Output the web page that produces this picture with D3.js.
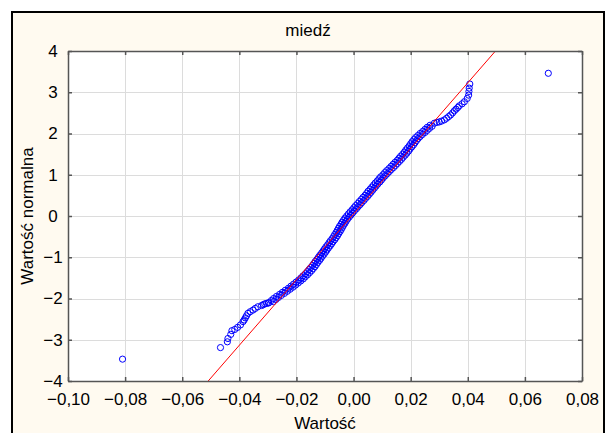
<!DOCTYPE html>
<html>
<head>
<meta charset="utf-8">
<script src="https://cdn.jsdelivr.net/npm/d3@7"></script>
<style>
  body { margin: 0; background: #fff; }
  svg { display: block; font-family: Arial, "Liberation Sans", sans-serif; }
</style>
</head>
<body>
<svg id="chart" width="606" height="433"></svg>
<script>
// chart texts
const chartTitle = "miedź";
const xTitle = "Wartość";
const yTitle = "Wartość normalna";

// tick values
const xTicks = [-0.10, -0.08, -0.06, -0.04, -0.02, 0.00, 0.02, 0.04, 0.06, 0.08];
const yTicks = [-4, -3, -2, -1, 0, 1, 2, 3, 4];

// normal scores (y)
const normalna = [
  // lower tail
  -3.47, -3.19, -3.05, -2.97, -2.87, -2.78, -2.75, -2.70, -2.64, -2.56, -2.52, -2.47,
  -2.42, -2.36, -2.32, -2.28, -2.24, -2.20, -2.17, -2.15, -2.13, -2.12, -2.11,
  // dense middle
  -2.100, -2.075, -2.050, -2.025, -2.000, -1.975, -1.950, -1.925, -1.900, -1.875,
  -1.850, -1.825, -1.800, -1.775, -1.750, -1.725, -1.700, -1.675, -1.650, -1.625,
  -1.600, -1.575, -1.550, -1.525, -1.500, -1.475, -1.450, -1.425, -1.400, -1.375,
  -1.350, -1.325, -1.300, -1.275, -1.250, -1.225, -1.200, -1.175, -1.150, -1.125,
  -1.100, -1.075, -1.050, -1.025, -1.000, -0.975, -0.950, -0.925, -0.900, -0.875,
  -0.850, -0.825, -0.800, -0.775, -0.750, -0.725, -0.700, -0.675, -0.650, -0.625,
  -0.600, -0.575, -0.550, -0.525, -0.500, -0.475, -0.450, -0.425, -0.400, -0.375,
  -0.350, -0.325, -0.300, -0.275, -0.250, -0.225, -0.200, -0.175, -0.150, -0.125,
  -0.100, -0.075, -0.050, -0.025, 0.000, 0.025, 0.050, 0.075, 0.100, 0.125,
  0.150, 0.175, 0.200, 0.225, 0.250, 0.275, 0.300, 0.325, 0.350, 0.375,
  0.400, 0.425, 0.450, 0.475, 0.500, 0.525, 0.550, 0.575, 0.600, 0.625,
  0.650, 0.675, 0.700, 0.725, 0.750, 0.775, 0.800, 0.825, 0.850, 0.875,
  0.900, 0.925, 0.950, 0.975, 1.000, 1.025, 1.050, 1.075, 1.100, 1.125,
  1.150, 1.175, 1.200, 1.225, 1.250, 1.275, 1.300, 1.325, 1.350, 1.375,
  1.400, 1.425, 1.450, 1.475, 1.500, 1.525, 1.550, 1.575, 1.600, 1.625,
  1.650, 1.675, 1.700, 1.725, 1.750, 1.775, 1.800, 1.825, 1.850, 1.875,
  1.900, 1.925, 1.950, 1.975, 2.000, 2.025, 2.050, 2.075, 2.100, 2.125,
  2.150, 2.175, 2.200,
  // upper tail
  2.25, 2.27, 2.28, 2.30, 2.33, 2.37, 2.41, 2.45, 2.50, 2.55, 2.59, 2.63,
  2.67, 2.72, 2.77, 2.85, 2.93, 3.02, 3.10, 3.20, 3.46
];

// observed values (x), same order
const wartosc = [
  // lower tail
  -0.0809, -0.0466, -0.0442, -0.0440, -0.0430, -0.0426, -0.0416, -0.0406, -0.0396, -0.0387, -0.0383, -0.0379,
  -0.0375, -0.0370, -0.0362, -0.0352, -0.0344, -0.0335, -0.0322, -0.0316, -0.0311, -0.0305, -0.0298,
  // dense middle
  -0.0297, -0.0281, -0.0288, -0.0272, -0.0280, -0.0263, -0.0270, -0.0253, -0.0259, -0.0242,
  -0.0249, -0.0232, -0.0239, -0.0222, -0.0228, -0.0212, -0.0219, -0.0203, -0.0210, -0.0194,
  -0.0201, -0.0185, -0.0192, -0.0176, -0.0184, -0.0169, -0.0177, -0.0161, -0.0169, -0.0154,
  -0.0162, -0.0147, -0.0156, -0.0141, -0.0150, -0.0135, -0.0144, -0.0130, -0.0139, -0.0125,
  -0.0134, -0.0119, -0.0128, -0.0114, -0.0123, -0.0109, -0.0118, -0.0103, -0.0112, -0.0098,
  -0.0107, -0.0093, -0.0102, -0.0088, -0.0097, -0.0082, -0.0091, -0.0077, -0.0086, -0.0072,
  -0.0081, -0.0066, -0.0075, -0.0061, -0.0070, -0.0056, -0.0066, -0.0052, -0.0061, -0.0047,
  -0.0057, -0.0043, -0.0053, -0.0039, -0.0049, -0.0035, -0.0044, -0.0030, -0.0040, -0.0026,
  -0.0035, -0.0021, -0.0030, -0.0015, -0.0024, -0.0009, -0.0018, -0.0003, -0.0012, 0.0003,
  -0.0005, 0.0010, 0.0001, 0.0016, 0.0007, 0.0023, 0.0014, 0.0029, 0.0020, 0.0036,
  0.0027, 0.0042, 0.0033, 0.0049, 0.0040, 0.0055, 0.0046, 0.0061, 0.0051, 0.0067,
  0.0058, 0.0073, 0.0064, 0.0079, 0.0070, 0.0085, 0.0076, 0.0092, 0.0083, 0.0098,
  0.0089, 0.0104, 0.0095, 0.0111, 0.0103, 0.0118, 0.0109, 0.0125, 0.0116, 0.0132,
  0.0124, 0.0140, 0.0131, 0.0147, 0.0138, 0.0154, 0.0145, 0.0161, 0.0153, 0.0168,
  0.0159, 0.0174, 0.0165, 0.0181, 0.0172, 0.0187, 0.0178, 0.0193, 0.0183, 0.0198,
  0.0189, 0.0204, 0.0195, 0.0210, 0.0200, 0.0215, 0.0205, 0.0220, 0.0211, 0.0226,
  0.0217, 0.0233, 0.0225, 0.0241, 0.0233, 0.0250, 0.0242, 0.0258, 0.0250, 0.0266,
  0.0258, 0.0275, 0.0268,
  // upper tail
  0.0283, 0.0292, 0.0300, 0.0308, 0.0318, 0.0326, 0.0333, 0.0340, 0.0347, 0.0353, 0.0359, 0.0365,
  0.0370, 0.0380, 0.0388, 0.0398, 0.0403, 0.0404, 0.0405, 0.0407, 0.0682
];

// fitted normal line, two end points
const lineX = [-0.0509, 0.0497];
const lineY = [-4, 4];

const svg = d3.select("#chart");
const plot = { left: 68, right: 582, top: 51, bottom: 381 };

// outer frame
svg.append("rect")
  .attr("x", 12).attr("y", 12)
  .attr("width", 592).attr("height", 440)
  .attr("fill", "#fffaf0")
  .attr("stroke", "#000")
  .attr("stroke-width", 2);

const x = d3.scaleLinear().domain([-0.10, 0.08]).range([plot.left, plot.right]);
const y = d3.scaleLinear().domain([-4, 4]).range([plot.bottom, plot.top]);

// plot background
svg.append("rect")
  .attr("x", plot.left).attr("y", plot.top)
  .attr("width", plot.right - plot.left).attr("height", plot.bottom - plot.top)
  .attr("fill", "#fff");

// grid
const grid = svg.append("g").attr("stroke", "#dcdcdc").attr("stroke-width", 1);
grid.selectAll(".gx").data(xTicks.slice(1, -1)).join("line")
  .attr("x1", d => Math.round(x(d)) + 0.5).attr("x2", d => Math.round(x(d)) + 0.5)
  .attr("y1", plot.top).attr("y2", plot.bottom);
grid.selectAll(".gy").data(yTicks.slice(1, -1)).join("line")
  .attr("y1", d => Math.round(y(d)) + 0.5).attr("y2", d => Math.round(y(d)) + 0.5)
  .attr("x1", plot.left).attr("x2", plot.right);

// clip for marks
svg.append("clipPath").attr("id", "clip")
  .append("rect")
  .attr("x", plot.left).attr("y", plot.top)
  .attr("width", plot.right - plot.left).attr("height", plot.bottom - plot.top);

const marks = svg.append("g").attr("clip-path", "url(#clip)");

marks.selectAll("circle")
  .data(d3.range(wartosc.length))
  .join("circle")
  .attr("cx", i => x(wartosc[i]))
  .attr("cy", i => y(normalna[i]))
  .attr("r", 3.1)
  .attr("fill", "none")
  .attr("stroke", "#0000ff")
  .attr("stroke-width", 1);

marks.append("line")
  .attr("x1", x(lineX[0])).attr("y1", y(lineY[0]))
  .attr("x2", x(lineX[1])).attr("y2", y(lineY[1]))
  .attr("stroke", "#ff0000")
  .attr("stroke-width", 1);

// axes with inward ticks
const fmt = d => d3.format(".2f")(d).replace(".", ",");
const axisColor = "#555";

const xb = svg.append("g").attr("transform", `translate(0,${plot.bottom})`)
  .call(d3.axisBottom(x).tickValues(xTicks).tickSizeInner(-4).tickSizeOuter(0).tickPadding(12).tickFormat(fmt));
const xt = svg.append("g").attr("transform", `translate(0,${plot.top})`)
  .call(d3.axisTop(x).tickValues(xTicks).tickSizeInner(-4).tickSizeOuter(0).tickFormat(""));
const yl = svg.append("g").attr("transform", `translate(${plot.left},0)`)
  .call(d3.axisLeft(y).tickValues(yTicks).tickSizeInner(-4).tickSizeOuter(0).tickFormat(d3.format("d")));
const yr = svg.append("g").attr("transform", `translate(${plot.right},0)`)
  .call(d3.axisRight(y).tickValues(yTicks).tickSizeInner(-4).tickSizeOuter(0).tickFormat(""));

[xb, xt, yl, yr].forEach(g => {
  g.select(".domain").attr("stroke", axisColor).attr("stroke-width", 1.5);
  g.selectAll(".tick line").attr("stroke", axisColor).attr("stroke-width", 1.5);
  g.selectAll("text").attr("fill", "#000").attr("font-size", 17).attr("font-family", "Arial, 'Liberation Sans', sans-serif");
});

// y labels centred in the left margin
yl.selectAll(".tick text")
  .attr("text-anchor", "middle")
  .attr("x", 53 - plot.left);

// titles
svg.append("text")
  .attr("x", 308).attr("y", 36)
  .attr("text-anchor", "middle")
  .attr("font-size", 17)
  .text(chartTitle);

svg.append("text")
  .attr("x", (plot.left + plot.right) / 2).attr("y", 429)
  .attr("text-anchor", "middle")
  .attr("font-size", 17)
  .text(xTitle);

svg.append("text")
  .attr("transform", `translate(33,${(plot.top + plot.bottom) / 2}) rotate(-90)`)
  .attr("text-anchor", "middle")
  .attr("font-size", 17)
  .text(yTitle);
</script>
</body>
</html>
